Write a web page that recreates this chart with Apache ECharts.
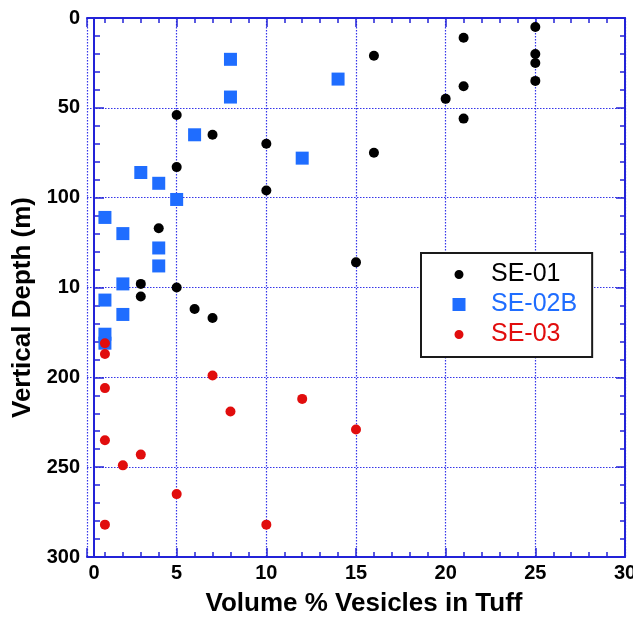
<!DOCTYPE html>
<html>
<head>
<meta charset="utf-8">
<script src="https://cdn.jsdelivr.net/npm/echarts@6/dist/echarts.min.js"></script>
<style>
html,body{margin:0;padding:0;background:#fff;}
#chart{width:633px;height:617px;}
</style>
</head>
<body>
<div id="chart"></div>
<script>
// Data
var seriesNames = ['SE-01', 'SE-02B', 'SE-03'];
var se01Vesicles = [25, 21, 16, 25, 25, 25, 21, 20, 21, 16, 15, 5, 7, 10, 5, 10, 4, 3, 5, 3, 6, 7];
var se01Depth    = [5, 11, 21, 20, 25, 35, 38, 45, 56, 75, 136, 54, 65, 70, 83, 96, 117, 148, 150, 155, 162, 167];
var se02bVesicles = [8, 14, 8, 6, 12, 3, 4, 5, 1, 2, 4, 4, 2, 1, 2, 1, 1];
var se02bDepth    = [23, 34, 44, 65, 78, 86, 92, 101, 111, 120, 128, 138, 148, 157, 165, 176, 181];
var se03Vesicles = [1, 1, 7, 1, 12, 8, 15, 1, 3, 2, 5, 1, 10];
var se03Depth    = [181, 187, 199, 206, 212, 219, 229, 235, 243, 249, 265, 282, 282];
var yTickValues = [0, 50, 100, 150, 200, 250, 300];
var yTickLabels = ['0', '50', '100', '10', '200', '250', '300'];
var xTickLabels = ['0', '5', '10', '15', '20', '25', '30'];

function pairs(xs, ys) { return xs.map(function (x, i) { return [x, ys[i]]; }); }

var FONT = '"Liberation Sans", Arial, Helvetica, sans-serif';
var AXIS_BLUE = '#2323d8';
var GRID_BLUE = '#3535ea';
var C_BLACK = '#000000', C_BLUE = '#1f6dff', C_RED = '#e10d0d';

// legend icons: 54x13 bounding boxes so nothing is stretched
var circleIconBlack = 'path://M0,0M54,13M27,2A4.5,4.5 0 1 1 26.99,2Z';
var circleIconRed = 'path://M0,0M54,13M27,2A4.5,4.5 0 1 1 26.99,2Z';
var squareIcon = 'path://M0,0M54,13M20.5,0H33.5V13H20.5Z';

var chart = echarts.init(document.getElementById('chart'), null, {renderer: 'canvas'});
var option = {
  backgroundColor: '#ffffff',
  animation: false,
  grid: {left: 87, right: 8, top: 18, bottom: 60, containLabel: false, outerBoundsMode: 'none'},
  legend: {
    orient: 'vertical',
    left: 421, top: 253,
    padding: [9, 15, 10, 11],
    itemWidth: 54, itemHeight: 13, itemGap: 5,
    backgroundColor: '#ffffff',
    borderColor: '#1a1a1a', borderWidth: 2, borderRadius: 0,
    textStyle: {fontFamily: FONT, fontSize: 25, lineHeight: 25},
    data: [
      {name: seriesNames[0], icon: circleIconBlack, textStyle: {color: C_BLACK}},
      {name: seriesNames[1], icon: squareIcon, textStyle: {color: C_BLUE}},
      {name: seriesNames[2], icon: circleIconRed, textStyle: {color: C_RED}}
    ]
  },
  xAxis: [{
    type: 'value', min: 0, max: 30, interval: 5, position: 'bottom',
    name: 'Volume % Vesicles in Tuff', nameLocation: 'middle', nameGap: 34,
    nameTextStyle: {fontFamily: FONT, fontSize: 26, fontWeight: 'bold', color: '#000', padding: [0, 0, 0, 16]},
    axisLine: {show: true, onZero: false, lineStyle: {color: AXIS_BLUE, width: 2}},
    axisTick: {show: true, inside: true, length: 9, lineStyle: {color: AXIS_BLUE, width: 1.5}},
    minorTick: {show: true, splitNumber: 5, length: 5, lineStyle: {color: AXIS_BLUE, width: 1.5}},
    axisLabel: {
      margin: 6, fontFamily: FONT, fontSize: 20, fontWeight: 'bold', color: '#000',
      formatter: function (v) { var s = xTickLabels[Math.round(v / 5)]; return v === 0 ? '{z|' + s + '}' : s; },
      rich: {z: {fontFamily: FONT, fontSize: 20, fontWeight: 'bold', color: '#000', padding: [0, 0, 0, 14]}}
    },
    splitLine: {show: true, lineStyle: {color: GRID_BLUE, type: [1.5, 1.5], width: 1.2}}
  }, {
    type: 'value', min: 0, max: 30, interval: 5, position: 'top',
    axisLine: {show: true, onZero: false, lineStyle: {color: AXIS_BLUE, width: 2}},
    axisTick: {show: true, inside: true, length: 9, lineStyle: {color: AXIS_BLUE, width: 1.5}},
    minorTick: {show: true, splitNumber: 5, length: 5, lineStyle: {color: AXIS_BLUE, width: 1.5}},
    axisLabel: {show: false}, splitLine: {show: false}
  }],
  yAxis: [{
    type: 'value', min: 0, max: 300, interval: 50, inverse: true, position: 'left', offset: -7,
    name: 'Vertical Depth (m)', nameLocation: 'middle', nameGap: 56,
    nameTextStyle: {fontFamily: FONT, fontSize: 26, fontWeight: 'bold', color: '#000', padding: [0, 40, 0, 0]},
    axisLine: {show: true, onZero: false, lineStyle: {color: AXIS_BLUE, width: 2}},
    axisTick: {show: true, inside: true, length: 10, lineStyle: {color: AXIS_BLUE, width: 1.5}},
    minorTick: {show: true, splitNumber: 5, length: 6, lineStyle: {color: AXIS_BLUE, width: 1.5}},
    axisLabel: {
      margin: 14, fontFamily: FONT, fontSize: 20, fontWeight: 'bold', color: '#000',
      formatter: function (v) { var i = yTickValues.indexOf(v); return i >= 0 ? yTickLabels[i] : ''; }
    },
    splitLine: {show: true, lineStyle: {color: GRID_BLUE, type: [1.5, 1.5], width: 1.2}}
  }, {
    type: 'value', min: 0, max: 300, interval: 50, inverse: true, position: 'right',
    axisLine: {show: true, onZero: false, lineStyle: {color: AXIS_BLUE, width: 2}},
    axisTick: {show: true, inside: true, length: 9, lineStyle: {color: AXIS_BLUE, width: 1.5}},
    minorTick: {show: true, splitNumber: 5, length: 5, lineStyle: {color: AXIS_BLUE, width: 1.5}},
    axisLabel: {show: false}, splitLine: {show: false}
  }],
  series: [
    {name: seriesNames[0], type: 'scatter', symbol: 'circle', symbolSize: 10,
     itemStyle: {color: C_BLACK, opacity: 1}, data: pairs(se01Vesicles, se01Depth)},
    {name: seriesNames[1], type: 'scatter', symbol: 'rect', symbolSize: 13,
     itemStyle: {color: C_BLUE, opacity: 1}, data: pairs(se02bVesicles, se02bDepth)},
    {name: seriesNames[2], type: 'scatter', symbol: 'circle', symbolSize: 10,
     itemStyle: {color: C_RED, opacity: 1}, data: pairs(se03Vesicles, se03Depth)}
  ]
};
chart.setOption(option);
</script>
</body>
</html>
